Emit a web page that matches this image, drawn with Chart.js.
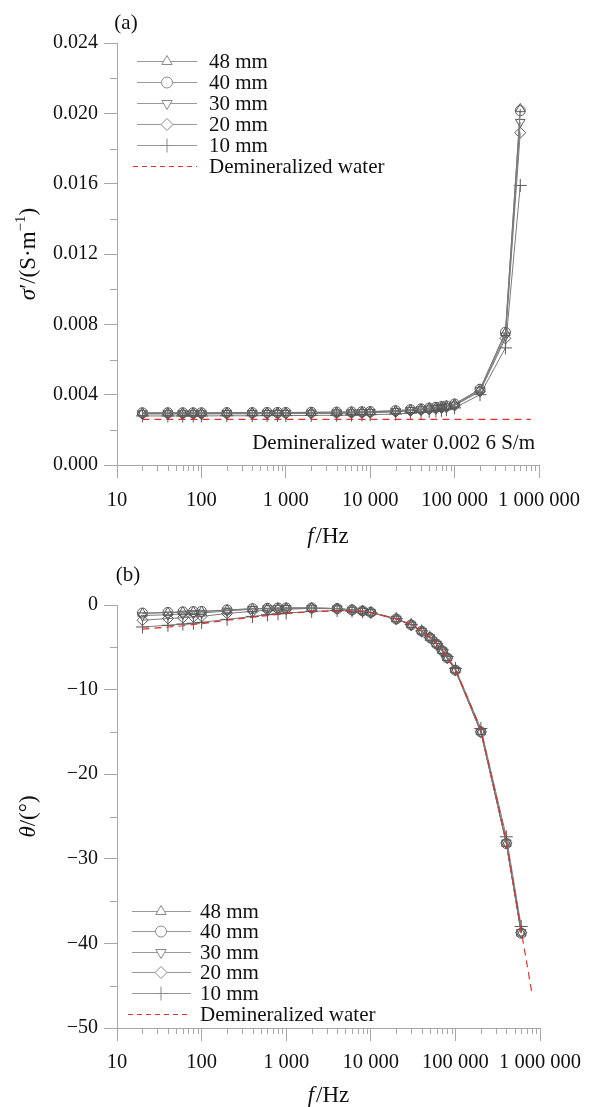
<!DOCTYPE html>
<html><head><meta charset="utf-8">
<script src="https://cdn.jsdelivr.net/npm/chart.js@4.4.0/dist/chart.umd.min.js"></script>
<style>
html,body{margin:0;padding:0;background:#fff;}
#wa{position:absolute;left:0;top:0;width:590px;height:553px;}
#wb{position:absolute;left:0;top:553px;width:590px;height:554px;}
</style></head><body>
<div id="wa"><canvas id="ca"></canvas></div>
<div id="wb"><canvas id="cb"></canvas></div>
<script>
// ---------- DATA ----------
const freqs = [20,40,60,80,100,200,400,600,800,1000,2000,4000,6000,8000,10000,20000,30000,40000,50000,60000,70000,80000,100000,200000,400000,600000];
const seriesNames = ['48 mm','40 mm','30 mm','20 mm','10 mm'];
const waterName = 'Demineralized water';

// (a) conductivity sigma' (S/m)
const sigma48 = [0.00296,0.00296,0.00296,0.00296,0.00296,0.00297,0.00297,0.00298,0.00298,0.00298,0.00299,0.00300,0.00301,0.00302,0.00303,0.00308,0.00314,0.00318,0.00323,0.00327,0.00331,0.00335,0.00346,0.00430,0.00752,0.02025];
const sigma40 = [0.00297,0.00297,0.00297,0.00297,0.00297,0.00298,0.00298,0.00299,0.00299,0.00299,0.00300,0.00301,0.00302,0.00303,0.00304,0.00309,0.00315,0.00319,0.00324,0.00328,0.00332,0.00336,0.00347,0.00431,0.00755,0.02015];
const sigma30 = [0.00293,0.00293,0.00293,0.00293,0.00293,0.00294,0.00294,0.00295,0.00295,0.00295,0.00296,0.00297,0.00298,0.00299,0.00300,0.00305,0.00311,0.00315,0.00320,0.00324,0.00328,0.00332,0.00342,0.00424,0.00735,0.01950];
const sigma20 = [0.00290,0.00290,0.00290,0.00290,0.00290,0.00291,0.00291,0.00292,0.00292,0.00292,0.00293,0.00294,0.00295,0.00296,0.00297,0.00302,0.00308,0.00312,0.00316,0.00320,0.00324,0.00328,0.00338,0.00418,0.00720,0.01890];
const sigma10 = [0.00279,0.00279,0.00279,0.00279,0.00279,0.00280,0.00280,0.00281,0.00281,0.00281,0.00282,0.00283,0.00284,0.00285,0.00286,0.00290,0.00295,0.00299,0.00303,0.00307,0.00311,0.00315,0.00325,0.00400,0.00666,0.01590];
const waterSigmaFreqs = [20,800000];
const waterSigma = [0.0026,0.0026];

// (b) phase angle theta (deg)
const theta48 = [-1.00,-0.90,-0.83,-0.80,-0.78,-0.60,-0.45,-0.40,-0.37,-0.36,-0.36,-0.42,-0.58,-0.70,-0.87,-1.65,-2.35,-3.10,-3.85,-4.62,-5.40,-6.25,-7.70,-15.0,-28.2,-38.8];
const theta40 = [-0.95,-0.88,-0.82,-0.78,-0.76,-0.58,-0.44,-0.39,-0.36,-0.35,-0.35,-0.42,-0.58,-0.70,-0.87,-1.65,-2.35,-3.10,-3.85,-4.62,-5.40,-6.25,-7.70,-15.0,-28.2,-38.8];
const theta30 = [-1.25,-1.15,-1.05,-1.00,-0.95,-0.70,-0.50,-0.42,-0.40,-0.38,-0.36,-0.43,-0.59,-0.71,-0.88,-1.65,-2.35,-3.10,-3.85,-4.62,-5.40,-6.25,-7.70,-15.0,-28.1,-38.7];
const theta20 = [-1.80,-1.60,-1.50,-1.40,-1.35,-1.00,-0.75,-0.60,-0.55,-0.50,-0.40,-0.45,-0.60,-0.72,-0.89,-1.65,-2.35,-3.10,-3.85,-4.62,-5.40,-6.25,-7.70,-15.0,-28.1,-38.7];
const theta10 = [-2.60,-2.40,-2.25,-2.15,-2.05,-1.70,-1.35,-1.15,-1.05,-0.95,-0.75,-0.65,-0.70,-0.80,-0.90,-1.60,-2.30,-3.05,-3.80,-4.55,-5.30,-6.10,-7.50,-14.6,-27.4,-38.0];
const waterThetaFreqs = [20,40,60,80,100,200,400,600,800,1000,2000,4000,6000,8000,10000,20000,30000,40000,50000,60000,70000,80000,100000,200000,400000,600000,800000];
const waterTheta = [-2.85,-2.60,-2.45,-2.30,-2.20,-1.80,-1.45,-1.25,-1.10,-1.00,-0.80,-0.70,-0.75,-0.80,-0.90,-1.65,-2.35,-3.05,-3.80,-4.60,-5.35,-6.20,-7.60,-14.7,-27.9,-38.5,-45.8];

// ticks
const xTickValues = [10,100,1000,10000,100000,1000000];
const xTickLabels = ['10','100','1 000','10 000','100 000','1 000 000'];
const ySigmaTicks = [0,0.004,0.008,0.012,0.016,0.020,0.024];
const ySigmaLabels = ['0.000','0.004','0.008','0.012','0.016','0.020','0.024'];
const ySigmaMinor = [0.002,0.006,0.010,0.014,0.018,0.022];
const yThetaTicks = [-50,-40,-30,-20,-10,0];
const yThetaLabels = ['\u221250','\u221240','\u221230','\u221220','\u221210','0'];
const yThetaMinor = [-45,-35,-25,-15,-5];
const annotationText = 'Demineralized water 0.002 6 S/m';

// ---------- STYLE ----------
const FONT = 'Liberation Serif';
const LINE = '#7a7a7a';
const MARK = '#585858';
const RED = '#e0302a';
const AXIS = '#a8a8a8';
const styles = [
  {pointStyle:'triangle', rotation:0, radius:5.5},
  {pointStyle:'circle', rotation:0, radius:5},
  {pointStyle:'triangle', rotation:180, radius:5.5},
  {pointStyle:'rectRot', rotation:0, radius:5.5},
  {pointStyle:'cross', rotation:0, radius:6.5}
];

const xMinor = [];
for (let d = 10; d < 1000000; d *= 10) for (let m = 2; m <= 9; m++) xMinor.push(m * d);

function pts(xs, ys){ return xs.map((x,i)=>({x:x, y:ys[i]})); }

function seriesDatasets(arrs){
  return arrs.map((arr,i)=>({
    label: seriesNames[i],
    data: pts(freqs, arr),
    borderColor: LINE, borderWidth: 1,
    pointStyle: styles[i].pointStyle, pointRotation: styles[i].rotation,
    pointRadius: styles[i].radius, pointBorderColor: MARK, pointBorderWidth: 1,
    pointBackgroundColor: 'rgba(255,255,255,0)', tension: 0, clip: false
  }));
}

function drawRich(ctx, segs, x, y, rot){
  ctx.save();
  ctx.translate(x, y);
  if (rot) ctx.rotate(rot);
  let w = 0;
  segs.forEach(s=>{ ctx.font = s.f; s.w = ctx.measureText(s.t).width + (s.gap || 0); w += s.w; });
  let cx = -w/2;
  ctx.textBaseline = 'middle'; ctx.textAlign = 'left'; ctx.fillStyle = '#111';
  segs.forEach(s=>{ ctx.font = s.f; ctx.fillText(s.t, cx, s.dy || 0); cx += s.w; });
  ctx.restore();
}

const decor = {
  id: 'decor',
  afterDraw(chart, args, o){
    const ctx = chart.ctx, xs = chart.scales.x, ys = chart.scales.y, a = chart.chartArea;
    // minor ticks
    ctx.save(); ctx.strokeStyle = AXIS; ctx.lineWidth = 1; ctx.beginPath();
    xMinor.forEach(v=>{ const px = Math.round(xs.getPixelForValue(v)) + 0.5; ctx.moveTo(px, a.bottom); ctx.lineTo(px, a.bottom + 6); });
    o.yMinor.forEach(v=>{ const py = Math.round(ys.getPixelForValue(v)) + 0.5; ctx.moveTo(a.left, py); ctx.lineTo(a.left - 7, py); });
    ctx.stroke(); ctx.restore();
    // legend
    const L = o.legend;
    ctx.save();
    L.rows.forEach((yy, i)=>{
      ctx.setLineDash(i === 5 ? [5,4] : []);
      ctx.strokeStyle = i === 5 ? RED : '#9a9a9a'; ctx.lineWidth = 1;
      ctx.beginPath(); ctx.moveTo(i === 5 ? L.x0 - 4 : L.x0, yy + 0.5); ctx.lineTo(L.x1, yy + 0.5); ctx.stroke();
      ctx.setLineDash([]);
      if (i < 5) {
        ctx.fillStyle = '#fff'; ctx.strokeStyle = '#8a8a8a';
        Chart.helpers.drawPoint(ctx, {pointStyle: styles[i].pointStyle, rotation: styles[i].rotation, radius: styles[i].radius + 0.5, borderWidth: 1}, L.mx, yy + 0.5);
      }
      ctx.fillStyle = '#111'; ctx.font = '21px ' + FONT; ctx.textBaseline = 'middle'; ctx.textAlign = 'left';
      ctx.fillText(i < 5 ? seriesNames[i] : waterName, L.tx, yy + 1);
    });
    ctx.restore();
    // panel label
    ctx.save(); ctx.fillStyle = '#111'; ctx.font = '21px ' + FONT; ctx.textBaseline = 'middle'; ctx.textAlign = 'center';
    ctx.fillText(o.panel, o.panelX, o.panelY);
    if (o.note) { ctx.textAlign = 'right'; ctx.fillText(o.note, o.noteX, o.noteY); }
    ctx.restore();
    // axis titles
    drawRich(ctx, o.xTitle, (a.left + a.right)/2, o.xTitleY, 0);
    drawRich(ctx, o.yTitle, 29, (a.top + a.bottom)/2, -Math.PI/2);
  }
};

function xScale(h, pad){
  return {
    type: 'logarithmic', min: 10, max: 1000000,
    afterBuildTicks: s => { s.ticks = xTickValues.map(v=>({value: v})); },
    afterFit: s => { s.height = h; },
    ticks: { autoSkip: false, maxRotation: 0, padding: pad, color: '#111', font: {family: FONT, size: 20.5},
      callback: v => xTickLabels[xTickValues.indexOf(v)] },
    grid: { drawOnChartArea: false, drawTicks: true, tickLength: 13, color: AXIS },
    border: { display: true, color: AXIS }
  };
}
function yScale(min, max, tv, tl){
  return {
    type: 'linear', min: min, max: max,
    afterBuildTicks: s => { s.ticks = tv.map(v=>({value: v})); },
    afterFit: s => { s.width = 117; },
    ticks: { autoSkip: false, padding: 6, color: '#111', font: {family: FONT, size: 20},
      callback: v => { const k = tv.findIndex(t => Math.abs(t - v) < 1e-9); return k >= 0 ? tl[k] : ''; } },
    grid: { drawOnChartArea: false, drawTicks: true, tickLength: 13, color: AXIS },
    border: { display: true, color: AXIS }
  };
}

const common = { responsive: true, maintainAspectRatio: false, animation: false, devicePixelRatio: 1 };
const TF = '23px ' + FONT, TFI = 'italic 23px ' + FONT;

new Chart(document.getElementById('ca'), {
  type: 'line',
  data: { datasets: [
    { label: waterName, data: pts(waterSigmaFreqs, waterSigma), borderColor: RED, borderWidth: 1.2, borderDash: [7,5], pointRadius: 0, clip: false }
  ].concat(seriesDatasets([sigma48, sigma40, sigma30, sigma20, sigma10])) },
  options: Object.assign({}, common, {
    layout: { padding: { top: 43, right: 50, left: 0, bottom: 0 } },
    scales: { x: xScale(88, 10), y: yScale(0, 0.024, ySigmaTicks, ySigmaLabels) },
    plugins: {
      legend: { display: false }, tooltip: { enabled: false },
      decor: {
        yMinor: ySigmaMinor,
        legend: { x0: 137, x1: 197, mx: 167, tx: 209, rows: [61, 82, 103, 124, 145, 166] },
        panel: '(a)', panelX: 126, panelY: 23,
        note: annotationText, noteX: 535, noteY: 443,
        xTitle: [ {t: 'f', f: TFI, gap: 2}, {t: '/Hz', f: TF} ], xTitleY: 537,
        yTitle: [ {t: '\u03c3', f: TFI}, {t: '\u2032/(S\u00b7m', f: TF}, {t: '\u22121', f: '15px ' + FONT, dy: -8}, {t: ')', f: TF} ]
      }
    }
  }),
  plugins: [decor]
});

new Chart(document.getElementById('cb'), {
  type: 'line',
  data: { datasets: [
    { label: waterName, data: pts(waterThetaFreqs, waterTheta), borderColor: RED, borderWidth: 1.2, borderDash: [7,5], pointRadius: 0, clip: false }
  ].concat(seriesDatasets([theta48, theta40, theta30, theta20, theta10])) },
  options: Object.assign({}, common, {
    layout: { padding: { top: 52, right: 50, left: 0, bottom: 0 } },
    scales: { x: xScale(79, 9), y: yScale(-50, 0, yThetaTicks, yThetaLabels) },
    plugins: {
      legend: { display: false }, tooltip: { enabled: false },
      decor: {
        yMinor: yThetaMinor,
        legend: { x0: 132, x1: 191, mx: 161, tx: 200, rows: [358, 378, 399, 419, 440, 461] },
        panel: '(b)', panelX: 128, panelY: 22,
        note: null,
        xTitle: [ {t: 'f', f: TFI, gap: 2}, {t: '/Hz', f: TF} ], xTitleY: 543,
        yTitle: [ {t: '\u03b8', f: TFI}, {t: '/(\u00b0)', f: TF} ]
      }
    }
  }),
  plugins: [decor]
});
</script>
</body></html>
